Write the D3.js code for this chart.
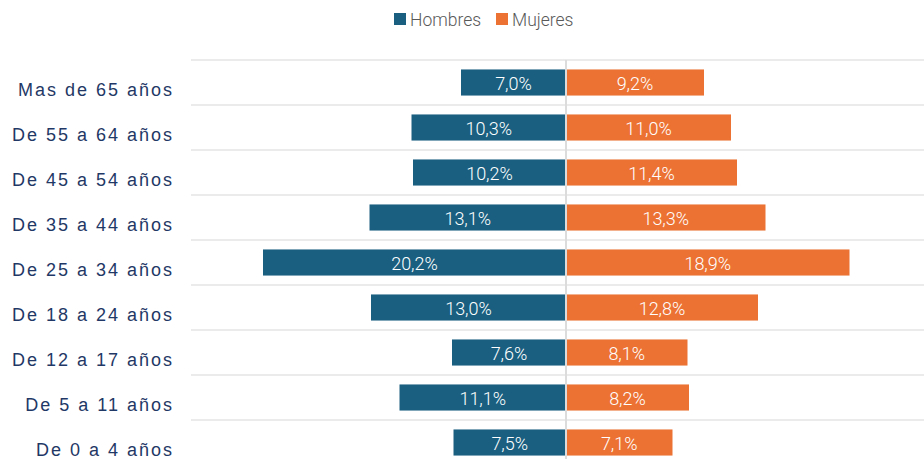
<!DOCTYPE html>
<html>
<head>
<meta charset="utf-8">
<script src="https://cdn.jsdelivr.net/npm/d3@7"></script>
<style>
  html, body { margin: 0; padding: 0; background: #fff; }
  #chart { width: 924px; height: 459px; overflow: hidden; }
</style>
</head>
<body>
<div id="chart"></div>
<script>
const categories = ['Mas de 65 años', 'De 55 a 64 años', 'De 45 a 54 años', 'De 35 a 44 años',
  'De 25 a 34 años', 'De 18 a 24 años', 'De 12 a 17 años', 'De 5 a 11 años', 'De 0 a 4 años']
const hombres = [7.0, 10.3, 10.2, 13.1, 20.2, 13.0, 7.6, 11.1, 7.5]
const mujeres = [9.2, 11.0, 11.4, 13.3, 18.9, 12.8, 8.1, 8.2, 7.1]
const seriesNames = ['Hombres', 'Mujeres']

const colors = { Hombres: '#1a5f80', Mujeres: '#ec7233' }
const width = 924
const height = 459

const svg = d3.select('#chart')
  .append('svg')
  .attr('width', width)
  .attr('height', height)

// x — hombres go left (negative), mujeres right
const x = d3.scaleLinear()
  .domain([-25, 24])
  .range([191, 926])

// y — one band per age group
const y = d3.scaleBand()
  .domain(categories)
  .range([60, 465])
  .paddingInner(0.42)
  .paddingOuter(0.21)

const rowTop = d => y(d) - y.step() * y.paddingOuter()

// gridlines
svg.append('g')
  .selectAll('line')
  .data(categories)
  .join('line')
  .attr('x1', x(-25))
  .attr('x2', width)
  .attr('y1', d => rowTop(d))
  .attr('y2', d => rowTop(d))
  .attr('stroke', '#e4e4e4')
  .attr('stroke-width', 1.5)

const fmt = v => d3.format('.1f')(v).replace('.', ',') + '%'

const rows = categories.map((c, i) => ({ category: c, Hombres: hombres[i], Mujeres: mujeres[i] }))

// bars
const bars = svg.append('g')
seriesNames.forEach(name => {
  const sign = name === 'Hombres' ? -1 : 1
  bars.selectAll(`rect.${name}`)
    .data(rows)
    .join('rect')
    .attr('class', name)
    .attr('x', d => Math.min(x(0), x(sign * d[name])))
    .attr('y', d => y(d.category))
    .attr('width', d => Math.abs(x(sign * d[name]) - x(0)))
    .attr('height', y.bandwidth())
    .attr('fill', colors[name])

  bars.selectAll(`text.${name}`)
    .data(rows)
    .join('text')
    .attr('class', name)
    .attr('x', d => (x(0) + x(sign * d[name])) / 2)
    .attr('y', d => y(d.category) + y.bandwidth() / 2 + 1)
    .attr('text-anchor', 'middle')
    .attr('dominant-baseline', 'central')
    .attr('fill', '#fff')
    .style('font-family', 'Roboto, sans-serif')
    .style('font-weight', 300)
    .style('font-size', '18px')
    .text(d => fmt(d[name]))
})

// center axis line
svg.append('line')
  .attr('x1', x(0))
  .attr('x2', x(0))
  .attr('y1', 60)
  .attr('y2', 465)
  .attr('stroke', '#dcdcdc')
  .attr('stroke-width', 2)

// category labels
svg.append('g')
  .selectAll('text')
  .data(categories)
  .join('text')
  .attr('x', 174)
  .attr('y', d => y(d) + y.bandwidth() / 2 + 13)
  .attr('text-anchor', 'end')
  .attr('fill', '#1f3866')
  .style('font-family', '"Liberation Sans", Arial, sans-serif')
  .style('font-size', '18px')
  .style('letter-spacing', '2px')
  .text(d => d)

// legend
const legendX = [394, 496]
const legend = svg.append('g')
  .selectAll('g')
  .data(seriesNames)
  .join('g')
  .attr('transform', (d, i) => `translate(${legendX[i]}, 13)`)

legend.append('rect')
  .attr('width', 12)
  .attr('height', 12)
  .attr('fill', d => colors[d])

legend.append('text')
  .attr('x', 16)
  .attr('y', 13)
  .attr('fill', '#595959')
  .style('font-family', 'Roboto, sans-serif')
  .style('font-weight', 300)
  .style('font-size', '17.5px')
  .text(d => d)
</script>
</body>
</html>
